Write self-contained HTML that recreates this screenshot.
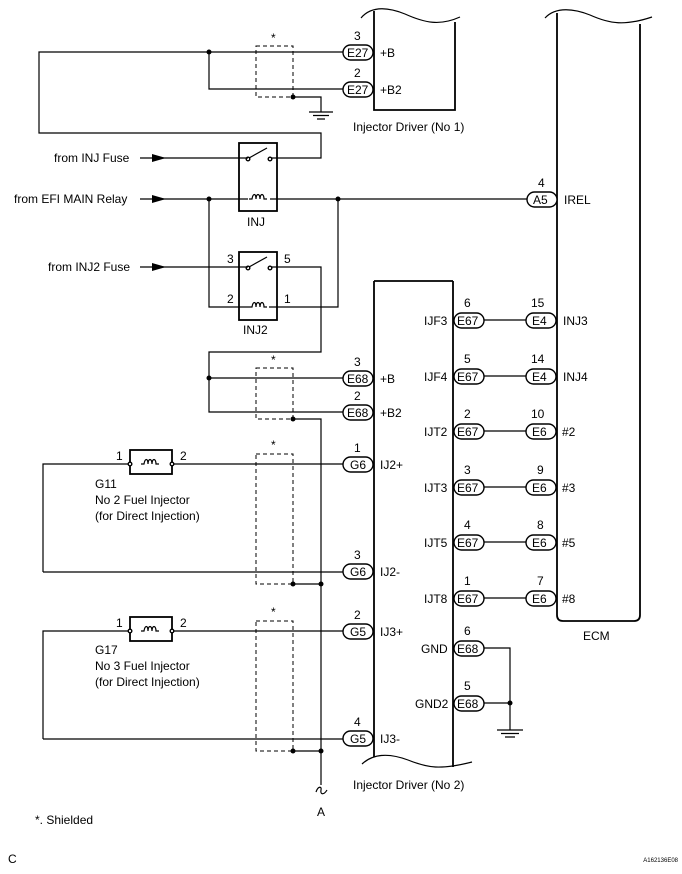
<!DOCTYPE html>
<html><head><meta charset="utf-8"><style>
html,body{margin:0;padding:0;background:#fff}
svg{display:block}
text{font-family:"Liberation Sans",sans-serif;font-size:12px;fill:#000}
.w{stroke:#000;stroke-width:1.2;fill:none}
.t{stroke:#000;stroke-width:1.8;fill:none}
.d{stroke:#000;stroke-width:1;fill:none;stroke-dasharray:4,3}
.p{stroke:#000;stroke-width:1.4;fill:#fff}
</style></head><body>
<svg width="682" height="874" viewBox="0 0 682 874" xmlns="http://www.w3.org/2000/svg">
<defs>
<g id="coil"><path d="M-10,0 h3 c1,-6 4,-6 4,0 c0,-6 4,-6 4,0 c0,-6 4,-6 4,0 c1,0 2,0 3,0" class="w"/></g>
</defs>
<!-- Injector Driver No1 -->
<path d="M361,18 C372,5 390,8 405,14 C425,23 440,26 460,17" class="w"/>
<path d="M374,11 V110 H455 V22" class="t"/>
<text x="353" y="131" font-size="12">Injector Driver (No 1)</text>
<!-- ECM -->
<path d="M545,18 C556,6 575,9 590,15 C610,24 625,26 652,17" class="w"/>
<path d="M557,13 V615 Q557,621 563,621 H634 Q640,621 640,615 V24" class="t"/>
<text x="583" y="640">ECM</text>
<!-- top wires -->
<path d="M343,52 H39 V133 H321 V158 H271" class="w"/>
<path d="M209,52 V89 H343" class="w"/>
<circle cx="209" cy="52" r="2.5"/>
<rect x="256" y="46" width="37" height="51" class="d"/>
<text x="271" y="42">*</text>
<path d="M293,97 H321 V112" class="w"/>
<circle cx="293" cy="97" r="2.5"/>
<path d="M309,112 H333 M313,115.5 H329 M317,119 H325" class="w"/>
<rect x="343" y="45" width="30" height="15" rx="7.5" class="p"/><text x="347" y="57">E27</text>
<text x="354" y="40">3</text><text x="380" y="57">+B</text>
<rect x="343" y="82" width="30" height="15" rx="7.5" class="p"/><text x="347" y="94">E27</text>
<text x="354" y="77">2</text><text x="380" y="94">+B2</text>
<!-- INJ relay -->
<rect x="239" y="143" width="38" height="68" class="t"/>
<text x="247" y="226">INJ</text>
<circle cx="248" cy="159" r="1.8" class="p"/><circle cx="270" cy="159" r="1.8" class="p"/>
<path d="M249,158 L267,148" class="w"/>
<text x="54" y="162">from INJ Fuse</text>
<path d="M140,158 H248" class="w"/><path d="M152,154 L166,158 L152,162 Z"/>
<text x="14" y="203">from EFI MAIN Relay</text>
<path d="M140,199 H248 M270,199 H527" class="w"/><path d="M152,195 L166,199 L152,203 Z"/>
<use href="#coil" x="259" y="199"/>
<circle cx="209" cy="199" r="2.5"/><circle cx="338" cy="199" r="2.5"/>
<rect x="527" y="192" width="30" height="15" rx="7.5" class="p"/><text x="533" y="204">A5</text>
<text x="538" y="187">4</text><text x="564" y="204">IREL</text>
<!-- INJ2 relay -->
<rect x="239" y="252" width="38" height="68" class="t"/>
<text x="243" y="334">INJ2</text>
<circle cx="248" cy="268" r="1.8" class="p"/><circle cx="270" cy="268" r="1.8" class="p"/>
<path d="M249,267 L267,257" class="w"/>
<text x="48" y="271">from INJ2 Fuse</text>
<path d="M140,267 H248" class="w"/><path d="M152,263 L166,267 L152,271 Z"/>
<text x="227" y="263">3</text><text x="284" y="263">5</text>
<text x="227" y="303">2</text><text x="284" y="303">1</text>
<path d="M209,199 V307 H249 M269,307 H338 V199" class="w"/>
<use href="#coil" x="259" y="307"/>
<path d="M271,267 H321 V352 H209 V412 H343" class="w"/>
<path d="M209,378 H343" class="w"/><circle cx="209" cy="378" r="2.5"/>
<rect x="256" y="368" width="37" height="51" class="d"/><text x="271" y="364">*</text>
<path d="M293,419 H321 V785" class="w"/><circle cx="293" cy="419" r="2.5"/>
<path d="M316,792 C318,786 322,786 321,790 C320,795 324,795 327,790" class="w"/>
<text x="317" y="816">A</text>
<rect x="343" y="371" width="30" height="15" rx="7.5" class="p"/><text x="347" y="383">E68</text>
<text x="354" y="366">3</text><text x="380" y="383">+B</text>
<rect x="343" y="405" width="30" height="15" rx="7.5" class="p"/><text x="347" y="417">E68</text>
<text x="354" y="400">2</text><text x="380" y="417">+B2</text>
<!-- Injector driver No2 -->
<path d="M374,281 V757 M453,281 V767 M374,281 H453" class="t"/>
<path d="M362,764 C375,752 392,754 408,760 C428,768 440,770 472,762" class="w"/>
<text x="353" y="789">Injector Driver (No 2)</text>
<!-- G11 -->
<rect x="130" y="450" width="42" height="24" class="t"/>
<path d="M43,572 V464 H130 M172,464 H343" class="w"/>
<path d="M43,572 H343" class="w"/>
<use href="#coil" x="151" y="464"/>
<circle cx="130" cy="464" r="1.8" class="p"/><circle cx="172" cy="464" r="1.8" class="p"/>
<text x="116" y="460">1</text><text x="180" y="460">2</text>
<text x="95" y="488">G11</text><text x="95" y="504">No  2 Fuel Injector</text><text x="95" y="520">(for Direct Injection)</text>
<rect x="256" y="454" width="37" height="130" class="d"/><text x="271" y="449">*</text>
<path d="M293,584 H321" class="w"/><circle cx="293" cy="584" r="2.5"/><circle cx="321" cy="584" r="2.5"/>
<rect x="343" y="457" width="30" height="15" rx="7.5" class="p"/><text x="350" y="469">G6</text>
<text x="354" y="452">1</text><text x="380" y="469">IJ2+</text>
<rect x="343" y="564" width="30" height="15" rx="7.5" class="p"/><text x="350" y="576">G6</text>
<text x="354" y="559">3</text><text x="380" y="576">IJ2-</text>
<!-- G17 -->
<rect x="130" y="617" width="42" height="24" class="t"/>
<path d="M43,739 V631 H130 M172,631 H343 M43,739 H343" class="w"/>
<use href="#coil" x="151" y="631"/>
<circle cx="130" cy="631" r="1.8" class="p"/><circle cx="172" cy="631" r="1.8" class="p"/>
<text x="116" y="627">1</text><text x="180" y="627">2</text>
<text x="95" y="654">G17</text><text x="95" y="670">No  3 Fuel Injector</text><text x="95" y="686">(for Direct Injection)</text>
<rect x="256" y="621" width="37" height="130" class="d"/><text x="271" y="616">*</text>
<path d="M293,751 H321" class="w"/><circle cx="293" cy="751" r="2.5"/><circle cx="321" cy="751" r="2.5"/>
<rect x="343" y="624" width="30" height="15" rx="7.5" class="p"/><text x="350" y="636">G5</text>
<text x="354" y="619">2</text><text x="380" y="636">IJ3+</text>
<rect x="343" y="731" width="30" height="15" rx="7.5" class="p"/><text x="350" y="743">G5</text>
<text x="354" y="726">4</text><text x="380" y="743">IJ3-</text>
<!-- right side connectors -->
<g>
<path d="M484,320 H526 M484,376 H526 M484,431 H526 M484,487 H526 M484,542 H526 M484,598 H526" class="w"/>
<rect x="454" y="313" width="30" height="15" rx="7.5" class="p"/><text x="457" y="325">E67</text>
<rect x="526" y="313" width="30" height="15" rx="7.5" class="p"/><text x="532" y="325">E4</text>
<text x="424" y="325">IJF3</text><text x="464" y="307">6</text><text x="531" y="307">15</text><text x="563" y="325">INJ3</text>
<rect x="454" y="369" width="30" height="15" rx="7.5" class="p"/><text x="457" y="381">E67</text>
<rect x="526" y="369" width="30" height="15" rx="7.5" class="p"/><text x="532" y="381">E4</text>
<text x="424" y="381">IJF4</text><text x="464" y="363">5</text><text x="531" y="363">14</text><text x="563" y="381">INJ4</text>
<rect x="454" y="424" width="30" height="15" rx="7.5" class="p"/><text x="457" y="436">E67</text>
<rect x="526" y="424" width="30" height="15" rx="7.5" class="p"/><text x="532" y="436">E6</text>
<text x="424" y="436">IJT2</text><text x="464" y="418">2</text><text x="531" y="418">10</text><text x="562" y="436">#2</text>
<rect x="454" y="480" width="30" height="15" rx="7.5" class="p"/><text x="457" y="492">E67</text>
<rect x="526" y="480" width="30" height="15" rx="7.5" class="p"/><text x="532" y="492">E6</text>
<text x="424" y="492">IJT3</text><text x="464" y="474">3</text><text x="537" y="474">9</text><text x="562" y="492">#3</text>
<rect x="454" y="535" width="30" height="15" rx="7.5" class="p"/><text x="457" y="547">E67</text>
<rect x="526" y="535" width="30" height="15" rx="7.5" class="p"/><text x="532" y="547">E6</text>
<text x="424" y="547">IJT5</text><text x="464" y="529">4</text><text x="537" y="529">8</text><text x="562" y="547">#5</text>
<rect x="454" y="591" width="30" height="15" rx="7.5" class="p"/><text x="457" y="603">E67</text>
<rect x="526" y="591" width="30" height="15" rx="7.5" class="p"/><text x="532" y="603">E6</text>
<text x="424" y="603">IJT8</text><text x="464" y="585">1</text><text x="537" y="585">7</text><text x="562" y="603">#8</text>
</g>
<path d="M484,648 H510 V730 M484,703 H510" class="w"/><circle cx="510" cy="703" r="2.5"/>
<path d="M497,730 H523 M501,733.5 H519 M505,737 H515" class="w"/>
<rect x="454" y="641" width="30" height="15" rx="7.5" class="p"/><text x="457" y="653">E68</text>
<text x="421" y="653">GND</text><text x="464" y="635">6</text>
<rect x="454" y="696" width="30" height="15" rx="7.5" class="p"/><text x="457" y="708">E68</text>
<text x="415" y="708">GND2</text><text x="464" y="690">5</text>
<text x="35" y="824">*. Shielded</text>
<text x="8" y="863" font-size="10">C</text>
<text x="678" y="862" text-anchor="end" style="font-size:6px">A162136E08</text>
</svg>
</body></html>
